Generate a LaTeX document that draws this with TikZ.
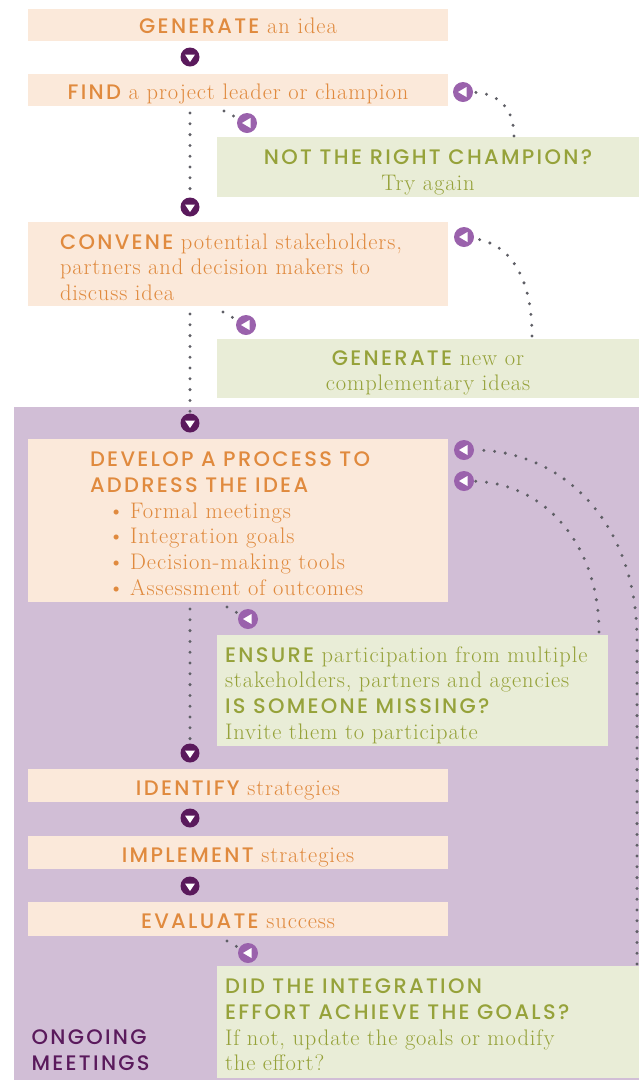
\documentclass[tikz,border=0pt]{standalone}
\usepackage{fontspec}
\setmainfont{Latin Modern Roman}[LetterSpace=4]
\newfontfamily\headfont{Poppins}[UprightFont=* Medium, LetterSpace=11]
\usetikzlibrary{backgrounds}
\definecolor{peach}{RGB}{251,233,218}
\definecolor{ochre}{RGB}{224,138,62}
\definecolor{sage}{RGB}{233,237,215}
\definecolor{olive}{RGB}{150,162,58}
\definecolor{heather}{RGB}{209,190,214}
\definecolor{plum}{RGB}{90,26,92}
\definecolor{lilac}{RGB}{154,98,172}
\definecolor{dotgrey}{RGB}{95,95,102}
\newcommand\hd[1]{{\fontsize{21}{25.7}\selectfont\headfont #1}}
% strut that pushes the first line down inside a fixed box
\newcommand\lift[1]{\rule{0pt}{#1pt}}

\begin{document}
\begin{tikzpicture}[x=1pt, y=-1pt,
  font=\fontsize{22.5}{25.7}\selectfont,
  stepbox/.style={fill=peach, text=ochre, minimum width=420pt, inner sep=0pt},
  askbox/.style={fill=sage, text=olive, inner sep=0pt},
  downmark/.style={circle, fill=plum, minimum size=19pt, inner sep=0pt,
    path picture={\fill[white, shift={(path picture bounding box.center)}]
      (-5pt,2.5pt) -- (5pt,2.5pt) -- (0pt,-5pt) -- cycle;}},
  backmark/.style={circle, fill=lilac, minimum size=20pt, inner sep=0pt,
    path picture={\fill[white, shift={(path picture bounding box.center)}, rotate=#1]
      (-5pt,0pt) -- (3.5pt,5pt) -- (3.5pt,-5pt) -- cycle;}},
  backmark/.default=0,
  dotline/.style={draw=dotgrey, line width=3.3pt, line cap=round,
    dash pattern=on 0pt off 10.8pt}
]
\useasboundingbox (0,0) rectangle (639,1080);

% ongoing meetings panel
\fill[heather] (14,407) rectangle (639,1080);

\node[stepbox, minimum height=32pt] (gen) at (238,25) {\lift{17.6}\hd{GENERATE} an idea};
\node[downmark] (m1) at (190,57) {};
\node[stepbox, minimum height=32pt] (find) at (238,90) {\lift{23.6}\hd{FIND} a project leader or champion};
\node[backmark] (back1) at (463,92) {};
\node[backmark=35] (tip1) at (247,123) {};
\node[askbox, minimum width=422pt, minimum height=60pt, align=center] (champ) at (428,167)
  {\lift{25}\hd{NOT THE RIGHT CHAMPION?}\\Try again};
\node[downmark] (m2) at (190,207) {};

\node[stepbox, minimum height=84pt, text width=356pt, align=left] (convene) at (238,264)
  {\lift{21.6}\hd{CONVENE} potential stakeholders,\\partners and decision makers to\\discuss idea};
\node[backmark] (back2) at (464,237) {};
\node[backmark=35] (tip2) at (246,325) {};
\node[askbox, minimum width=422pt, minimum height=59pt, align=center] (newidea) at (428,368.5)
  {\lift{23.6}\hd{GENERATE} new or\\complementary ideas};
\node[downmark] (m3) at (190,423) {};

\node[stepbox, minimum height=163pt, text width=296pt, align=left] (develop) at (238,520.5)
  {\lift{21}\hd{DEVELOP A PROCESS TO}\\\hd{ADDRESS THE IDEA}\\
   \hspace*{18pt}\textbullet\hspace{6pt}Formal meetings\\
   \hspace*{18pt}\textbullet\hspace{6pt}Integration goals\\
   \hspace*{18pt}\textbullet\hspace{6pt}Decision-making tools\\
   \hspace*{18pt}\textbullet\hspace{6pt}Assessment of outcomes};
\node[backmark] (back3) at (464,450) {};
\node[backmark] (back4) at (464,481) {};
\node[backmark=35] (tip3) at (248,619) {};
\node[askbox, minimum width=391pt, minimum height=111pt, text width=375pt, align=left] (ensure) at (412.5,690.5)
  {\lift{25}\hd{ENSURE} participation from multiple\\stakeholders, partners and agencies\\
   \hd{IS SOMEONE MISSING?}\\Invite them to participate};
\node[downmark] (m4) at (190,753) {};

\node[stepbox, minimum height=33pt] (identify) at (238,785.5) {\lift{23.6}\hd{IDENTIFY} strategies};
\node[downmark] (m5) at (190,818) {};
\node[stepbox, minimum height=33pt] (implement) at (238,852.5) {\lift{23.6}\hd{IMPLEMENT} strategies};
\node[downmark] (m6) at (190,886) {};
\node[stepbox, minimum height=34pt] (evaluate) at (238,919) {\lift{19.6}\hd{EVALUATE} success};
\node[backmark=35] (tip4) at (248,953) {};
\node[askbox, minimum width=422pt, minimum height=112pt, text width=406pt, align=left] (goals) at (428,1022)
  {\lift{21}\hd{DID THE INTEGRATION}\\\hd{EFFORT ACHIEVE THE GOALS?}\\
   If not, update the goals or modify\\the effort?};
\node[anchor=west, align=left, text=plum] (ongoing) at (28,1048)
  {\lift{19}\hd{ONGOING}\\\hd{MEETINGS}};

% dotted connectors
\coordinate (f1) at (190,113);
\coordinate (f2) at (224,111);
\coordinate (f3) at (190,314);
\coordinate (f4) at (223,312);
\coordinate (f5) at (190,609);
\coordinate (f6) at (227,607);
\coordinate (f7) at (227,941);
\draw[dotline] (f1) -- (m2);
\draw[dotline] (f2) -- (tip1);
\draw[dotline] (f3) -- (m3);
\draw[dotline] (f4) -- (tip2);
\draw[dotline] (f5) -- (m4);
\draw[dotline] (f6) -- (tip3);
\draw[dotline] (f7) -- (tip4);

\coordinate (g1) at (514,136);
\coordinate (g2) at (532,336);
\coordinate (g3) at (599,632);
\coordinate (g4) at (637,964);
\draw[dotline] (g1) .. controls (514,108) and (498,93) .. (back1);
\draw[dotline] (g2) .. controls (532,280) and (512,244) .. (back2);
\draw[dotline] (g3) .. controls (599,545) and (545,483) .. (back4);
\draw[dotline] (g4) -- (637,640) .. controls (637,520) and (560,450) .. (back3);
\end{tikzpicture}
\end{document}
